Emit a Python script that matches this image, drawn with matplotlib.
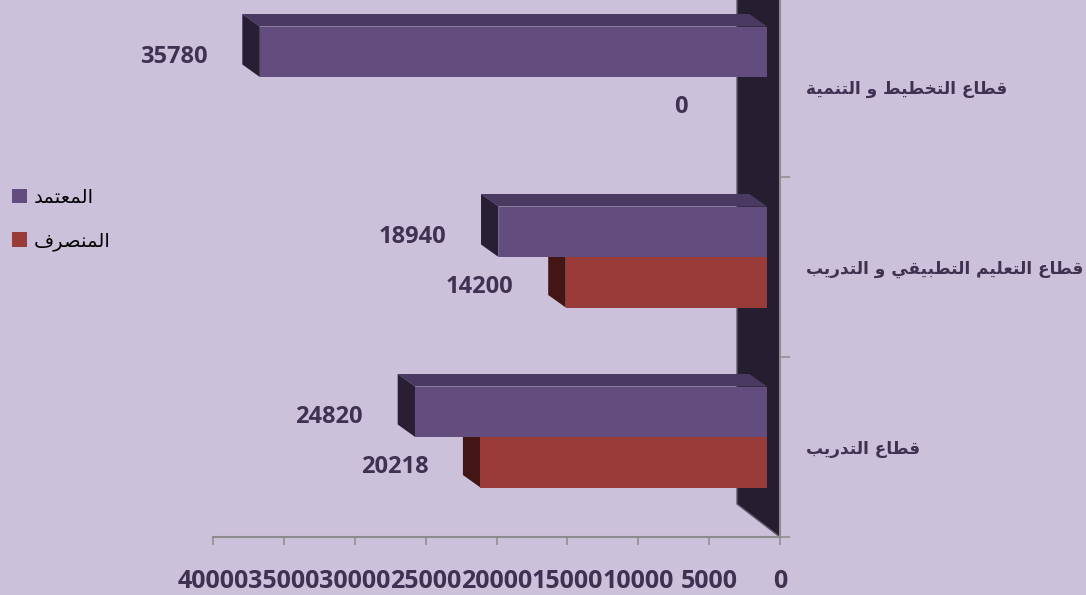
import unicodedata
import matplotlib
matplotlib.use("Agg")
import matplotlib.pyplot as plt
from matplotlib.patches import Polygon, Patch

# data
categories = ["قطاع التدريب", "قطاع التعليم التطبيقي و التدريب", "قطاع التخطيط و التنمية"]
approved = [24820, 18940, 35780]   # المعتمد
spent = [20218, 14200, 0]          # المنصرف
series_names = ["المعتمد", "المنصرف"]
xticks = [0, 5000, 10000, 15000, 20000, 25000, 30000, 35000, 40000]

BG = "#CCC1DA"
TXT = "#3F3151"
GRAY = "#8C8C8C"
PURPLE = ("#634D7E", "#4A3960", "#281F35")   # front, top, side
RED = ("#983B39", "#6E2A28", "#411615")
WALL = "#251D30"


def shape(s):
    # simple arabic joining + reversal, matplotlib has no bidi/shaping
    def forms(ch):
        name = unicodedata.name(ch, "")
        if not name.startswith("ARABIC LETTER"):
            return None
        f = {}
        for k in ("ISOLATED", "FINAL", "INITIAL", "MEDIAL"):
            try:
                f[k] = unicodedata.lookup(name + " " + k + " FORM")
            except KeyError:
                pass
        return f
    fs = [forms(c) for c in s]
    out = []
    for i, c in enumerate(s):
        f = fs[i]
        if not f:
            out.append(c)
            continue
        prev = fs[i - 1] if i > 0 else None
        nxt = fs[i + 1] if i + 1 < len(s) else None
        jp = bool(prev) and "INITIAL" in prev
        jn = bool(nxt) and "INITIAL" in f
        k = "MEDIAL" if jp and jn else "FINAL" if jp else "INITIAL" if jn else "ISOLATED"
        out.append(f.get(k, c))
    return "".join(out)[::-1]


fig = plt.figure(figsize=(10.86, 5.95), dpi=100)
fig.patch.set_facecolor(BG)
ax = fig.add_axes([213 / 1086, 58 / 595, 567 / 1086, 540 / 595])
ax.set_facecolor("none")
ax.set_xlim(40000, 0)
ax.set_ylim(-0.5, 2.5)

# pixel -> data helpers for the fake 3d depth
pos = ax.get_position()
vpp = 40000 / (pos.width * 1086)
cpp = 3 / (pos.height * 595)


def off(p, dx, dy):
    return (p[0] - dx * vpp, p[1] + dy * cpp)


FRONT = (-13, 10)
BACK = (-30.5, 22.5)
DEPTH = (-43, 33)

# side wall at value 0
wall = [(0, -0.5), (0, 3.0), off((0, 3.0), *DEPTH), off((0, -0.5), *DEPTH)]
ax.add_patch(Polygon(wall, closed=True, facecolor=WALL, edgecolor="#5E5868",
                     lw=1, clip_on=False, zorder=1))

h = 50.5 * cpp


def bar3d(v, y0, y1, cols):
    if v <= 0:
        return
    f = lambda p: off(p, *FRONT)
    b = lambda p: off(p, *BACK)
    top = [f((0, y1)), f((v, y1)), b((v, y1)), b((0, y1))]
    side = [f((v, y0)), f((v, y1)), b((v, y1)), b((v, y0))]
    front = [f((0, y0)), f((v, y0)), f((v, y1)), f((0, y1))]
    for pts, c in ((top, cols[1]), (side, cols[2]), (front, cols[0])):
        ax.add_patch(Polygon(pts, closed=True, facecolor=c, edgecolor="none",
                             clip_on=False, zorder=2))


for i in range(len(categories)):
    bar3d(spent[i], i - h, i, RED)
    bar3d(approved[i], i, i + h, PURPLE)

lab_font = dict(fontfamily="Open Sans", fontweight="bold", fontsize=17, color=TXT)
for i in range(len(categories)):
    for v, y in ((approved[i], i + h / 2), (spent[i], i - h / 2)):
        ax.annotate(str(v), xy=off((v, y), *FRONT), xytext=(-86, -5),
                    textcoords="offset pixels", ha="center", va="center",
                    annotation_clip=False, **lab_font)

# axes styling
for s in ("left", "top"):
    ax.spines[s].set_visible(False)
for s in ("bottom", "right"):
    ax.spines[s].set_color(GRAY)
    ax.spines[s].set_linewidth(1.5)

ax.set_xticks(xticks, [str(t) for t in xticks], fontfamily="Open Sans",
              fontweight="bold", fontsize=18, color=TXT)
ax.tick_params(axis="x", direction="out", length=6, width=1.1, color=GRAY, pad=17)

ax.yaxis.tick_right()
ax.set_yticks(range(len(categories)), [shape(c) for c in categories],
              fontfamily="DejaVu Sans", fontweight="bold", fontsize=12.2, color=TXT)
ax.set_yticks([-0.5, 0.5, 1.5, 2.5], minor=True)
ax.tick_params(axis="y", which="major", length=0, pad=19)
ax.tick_params(axis="y", which="minor", direction="out", length=7, width=1.1, color=GRAY)

handles = [Patch(facecolor=PURPLE[0]), Patch(facecolor=RED[0])]
fig.legend(handles, [shape(n) for n in series_names], loc="center left",
           bbox_to_anchor=(12 / 1086, 0.631), frameon=False,
           prop=dict(family="DejaVu Sans", size=14), borderpad=0, borderaxespad=0,
           handlelength=0.75, handleheight=0.75, labelspacing=1.25, handletextpad=0.35)

fig.savefig("out.png", dpi=100, facecolor=BG)
